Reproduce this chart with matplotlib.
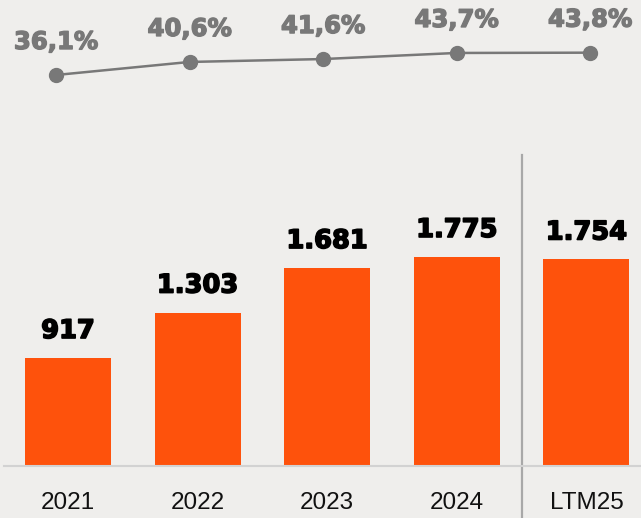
import matplotlib.pyplot as plt
import matplotlib.patheffects as pe
from matplotlib.ticker import NullLocator

# Data
categories = ['2021', '2022', '2023', '2024', 'LTM25']
ebitda = [917, 1303, 1681, 1775, 1754]
bar_labels = ['917', '1.303', '1.681', '1.775', '1.754']
margin = [36.1, 40.6, 41.6, 43.7, 43.8]
margin_labels = ['36,1%', '40,6%', '41,6%', '43,7%', '43,8%']

W, H = 641, 518
bg = '#efeeec'
orange = '#fe520c'
grey = '#787878'

fig = plt.figure(figsize=(W / 100, H / 100), dpi=100)
fig.patch.set_facecolor(bg)

# Bars axis: spans from x=4px to right edge, baseline at 466px from top
ax = fig.add_axes([4 / W, (H - 466) / H, 1 - 4 / W, (466 - 150) / H])
ax.set_facecolor('none')
x = list(range(len(categories)))
ax.bar(x, ebitda, width=0.664, color=orange, zorder=2)
ax.set_xlim((4 - 68) / 129.6, (641 - 68) / 129.6)
ax.set_ylim(0, 316 / 0.11775)

for xi, v, lab in zip(x, ebitda, bar_labels):
    ax.annotate(lab, (xi, v), xytext=(0, 27), textcoords='offset pixels',
                ha='center', va='center', fontsize=18.5, fontweight='bold',
                color='black', family='DejaVu Sans',
                path_effects=[pe.withStroke(linewidth=1.2, foreground='black')])

for s in ['top', 'right', 'left']:
    ax.spines[s].set_visible(False)
ax.spines['bottom'].set_color('#d2d2d2')
ax.spines['bottom'].set_linewidth(1.5)
ax.yaxis.set_major_locator(NullLocator())
ax.set_xticks(x)
ax.set_xticklabels(categories, fontsize=17.5, family='Liberation Sans', color='#111111')
ax.tick_params(axis='x', length=0, pad=19)

# separator between years and LTM
ax.axvline(3.5, ymin=-52 / 316, ymax=(466 - 155) / 316, color='#a8a8a8',
           linewidth=1.6, clip_on=False, zorder=1)

# Margin line axis (full figure)
ax2 = fig.add_axes([0, 0, 1, 1])
ax2.set_facecolor('none')
ax2.axis('off')
ax2.set_xlim(-56 / 133.5, (641 - 56) / 133.5)
ax2.set_ylim(36.1 - (H - 75) / 2.9, 36.1 + 75 / 2.9)
ax2.plot(x, margin, color=grey, linewidth=1.8, marker='o', markersize=10,
         markerfacecolor=grey, markeredgecolor=grey)
for xi, v, lab in zip(x, margin, margin_labels):
    ax2.annotate(lab, (xi, v), xytext=(0, 33), textcoords='offset pixels',
                 ha='center', va='center', fontsize=17.5, fontweight='bold',
                 color=grey, family='DejaVu Sans',
                 path_effects=[pe.withStroke(linewidth=1.0, foreground=grey)])

fig.savefig('out.png', dpi=100, facecolor=bg)
